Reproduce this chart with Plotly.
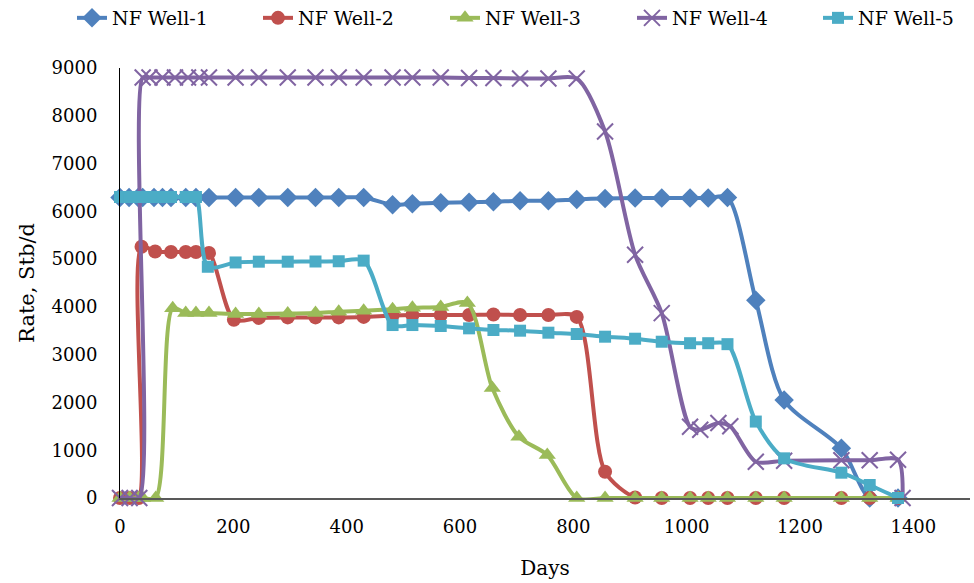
import plotly.graph_objects as go

# ---- data (days, rate Stb/d) ----
well1_days = [0, 16, 32, 40, 60, 75, 90, 116, 134, 157, 204, 245, 296, 345, 386, 430, 481, 516, 566, 616, 659, 706, 756, 806, 856, 909, 956, 1006, 1038, 1072, 1122, 1172, 1273, 1323, 1373]
well1_rate = [6290, 6290, 6290, 6290, 6290, 6290, 6290, 6290, 6290, 6290, 6290, 6290, 6290, 6290, 6290, 6290, 6140, 6160, 6180, 6190, 6200, 6220, 6220, 6250, 6270, 6280, 6280, 6280, 6280, 6290, 4140, 2050, 1040, 0, 0]

well2_days = [0, 17, 33, 38, 62, 90, 116, 134, 157, 201, 245, 296, 345, 386, 430, 481, 516, 566, 616, 659, 706, 756, 806, 856, 909, 956, 1006, 1038, 1072, 1122, 1172, 1273, 1323, 1373]
well2_rate = [0, 0, 0, 5260, 5160, 5150, 5150, 5150, 5130, 3730, 3770, 3780, 3780, 3780, 3790, 3820, 3830, 3830, 3830, 3840, 3830, 3830, 3790, 550, 10, 0, 0, 0, 0, 0, 0, 0, 0, 0]

well3_days = [0, 17, 33, 40, 63, 93, 116, 134, 157, 204, 245, 296, 345, 386, 430, 481, 516, 566, 613, 657, 704, 754, 806, 856, 909, 956, 1006, 1038, 1072, 1122, 1172, 1273, 1323, 1373]
well3_rate = [0, 0, 0, 0, 0, 3970, 3870, 3870, 3870, 3850, 3850, 3860, 3870, 3900, 3920, 3950, 3980, 4000, 4080, 2300, 1280, 900, 0, 0, 0, 0, 0, 0, 0, 0, 0, 0, 0, 0]

well4_days = [0, 17, 34, 40, 52, 75, 97, 120, 140, 157, 204, 245, 296, 345, 386, 430, 481, 516, 566, 616, 659, 706, 756, 806, 856, 909, 956, 1006, 1024, 1056, 1077, 1122, 1172, 1273, 1323, 1373, 1381]
well4_rate = [0, 0, 0, 8800, 8800, 8800, 8800, 8800, 8800, 8800, 8800, 8800, 8800, 8800, 8800, 8800, 8800, 8800, 8800, 8790, 8790, 8780, 8780, 8780, 7670, 5090, 3870, 1490, 1430, 1570, 1500, 760, 780, 790, 790, 800, 0]

well5_days = [0, 16, 32, 40, 60, 75, 90, 116, 134, 155, 204, 245, 296, 345, 386, 430, 481, 516, 566, 616, 659, 706, 756, 806, 856, 909, 956, 1006, 1038, 1072, 1122, 1172, 1273, 1323, 1373]
well5_rate = [6300, 6300, 6300, 6300, 6300, 6300, 6300, 6300, 6300, 4840, 4930, 4946, 4946, 4950, 4955, 4968, 3620, 3620, 3600, 3551, 3516, 3502, 3460, 3432, 3376, 3334, 3271, 3240, 3240, 3220, 1600, 830, 530, 272, 0]

names = ["NF Well-1", "NF Well-2", "NF Well-3", "NF Well-4", "NF Well-5"]
colors = ["#4F81BD", "#C0504D", "#9BBB59", "#8064A2", "#4BACC6"]

x_ticks = [0, 200, 400, 600, 800, 1000, 1200, 1400]
y_ticks = [0, 1000, 2000, 3000, 4000, 5000, 6000, 7000, 8000, 9000]

series = [
    (well1_days, well1_rate, dict(symbol="diamond", size=15)),
    (well2_days, well2_rate, dict(symbol="circle", size=14)),
    (well3_days, well3_rate, dict(symbol="triangle-up", size=15)),
    (well4_days, well4_rate, dict(symbol="x-thin-open", size=16, line=dict(width=2))),
    (well5_days, well5_rate, dict(symbol="square", size=12)),
]

SERIF = "DejaVu Serif"
W, H = 974, 583
legend_text_px = [112, 298, 485, 672, 858]   # left edge of each legend text

fig = go.Figure()
legend_layouts = {}
for i, ((dx, dy, mk), name, col) in enumerate(zip(series, names, colors)):
    m = dict(mk)
    m["color"] = col
    if "line" in m:
        m["line"] = dict(width=2, color=col)
    lg = "legend" if i == 0 else f"legend{i + 1}"
    fig.add_trace(go.Scatter(
        x=dx, y=dy, name=name, mode="lines+markers", legend=lg,
        line=dict(color=col, width=4, shape="spline", smoothing=0.8),
        marker=m, cliponaxis=False,
    ))
    legend_layouts[lg] = dict(
        orientation="h", xref="container", yref="container",
        x=(legend_text_px[i] - 40) / W, y=1 - 18 / H, xanchor="left", yanchor="middle",
        font=dict(family=SERIF, size=19, color="black"),
        bgcolor="rgba(0,0,0,0)", itemwidth=30,
    )

fig.update_layout(
    width=W, height=H,
    margin=dict(l=120, r=4, t=68, b=85),
    plot_bgcolor="white", paper_bgcolor="white",
    font=dict(family=SERIF, size=18, color="black"),
    showlegend=True,
    xaxis=dict(
        range=[0, 1500], tickvals=x_ticks, ticks="", showgrid=False, zeroline=False,
        showline=True, linecolor="#595959", linewidth=2, automargin=False,
        title=dict(text="Days", font=dict(family=SERIF, size=20), standoff=25),
        ticklabelstandoff=11,
    ),
    yaxis=dict(
        range=[0, 9000], tickvals=y_ticks, ticks="", showgrid=False, zeroline=False,
        showline=True, linecolor="black", linewidth=1, automargin=False,
        title=dict(text="Rate, Stb/d", font=dict(family=SERIF, size=21), standoff=11),
        ticklabelstandoff=18,
    ),
    **legend_layouts,
)

fig.write_html("out.html", config={"displayModeBar": False},
               post_script="document.body.style.margin='0';")
